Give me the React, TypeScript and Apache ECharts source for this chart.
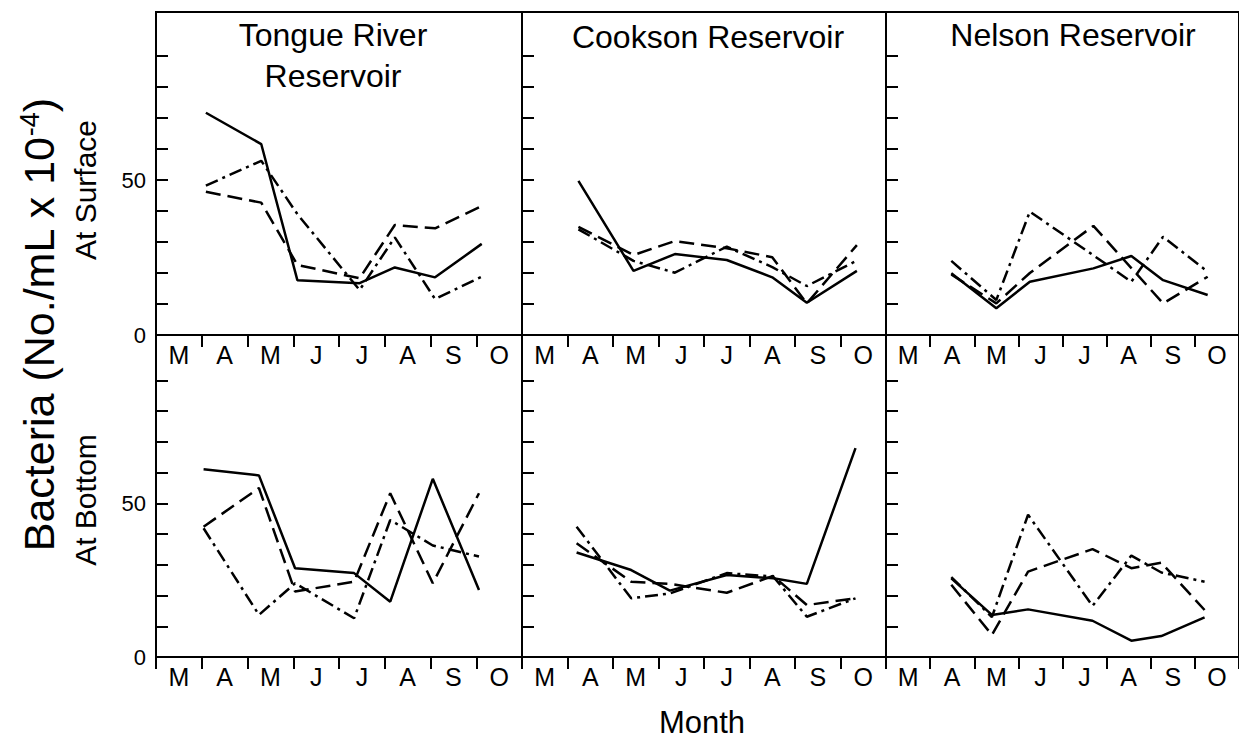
import React, { useEffect, useRef } from "react";
import * as echarts from "echarts";

// ---------- data (x = months since 1 March, y = bacteria No./mL x 10^-4) ----------
const MONTHS = ["M", "A", "M", "J", "J", "A", "S", "O"];
const PANEL_TITLES = ["Tongue River\nReservoir", "Cookson Reservoir", "Nelson Reservoir"];
const ROW_NAMES = ["At Surface", "At Bottom"];

// Tongue River – surface
const trSurfDates = [1.09, 2.3, 3.09, 4.45, 5.22, 6.1, 7.12];
const trSurfSolid = [71.7, 61.6, 17.7, 16.7, 21.8, 18.6, 29.4];
const trSurfDashed = [46.2, 42.7, 22.6, 18.3, 35.5, 34.4, 41.6];
const trSurfDashDot = [48.2, 56.2, 39.0, 14.5, 31.5, 11.6, 18.8];

// Cookson – surface
const ckSurfDates = [1.24, 2.45, 3.36, 4.5, 5.5, 6.26, 7.36];
const ckSurfSolid = [49.7, 20.7, 26.1, 24.2, 18.6, 10.4, 20.7];
const ckSurfDashed = [34.9, 25.8, 30.3, 28.0, 25.1, 10.2, 29.0];
const ckSurfDashDot = [34.1, 23.9, 20.1, 28.5, 21.9, 15.8, 24.0];

// Nelson – surface
const nlSurfDates = [1.48, 2.5, 3.26, 4.7, 5.56, 6.28, 7.29];
const nlSurfSolid = [19.9, 8.6, 17.2, 21.5, 25.5, 17.7, 12.9];
const nlSurfDashed = [19.5, 10.2, 20.0, 35.2, 21.6, 10.2, 18.8];
const nlSurfDashDot = [23.9, 11.3, 39.8, 25.7, 17.2, 31.7, 20.4];

// Tongue River – bottom
const trBotDates = [1.04, 2.25, 3.04, 4.33, 5.12, 6.05, 7.06];
const trBotSolid = [61.1, 59.1, 28.9, 27.3, 18.0, 58.0, 21.8];
const trBotDashed = [42.4, 55.0, 21.3, 24.5, 53.3, 24.0, 53.3];
const trBotDashDot = [41.9, 13.7, 24.0, 12.6, 44.6, 36.3, 32.7];

// Cookson – bottom
const ckBotDates = [1.2, 2.4, 3.25, 4.5, 5.52, 6.26, 7.33];
const ckBotSolid = [34.0, 28.3, 21.6, 26.7, 25.6, 23.8, 68.0];
const ckBotDashed = [37.0, 24.5, 23.8, 20.9, 26.4, 16.9, 19.1];
const ckBotDashDot = [42.4, 19.1, 20.7, 27.3, 26.2, 13.1, 19.1];

// Nelson – bottom
const nlBotDates = [1.48, 2.4, 3.22, 4.68, 5.56, 6.24, 7.22];
const nlBotSolid = [25.6, 13.7, 15.5, 11.8, 5.3, 6.8, 12.9];
const nlBotDashed = [23.5, 7.2, 27.8, 35.1, 28.9, 30.7, 15.3];
const nlBotDashDot = [26.0, 13.0, 46.3, 16.6, 33.0, 27.5, 24.5];

const Y_LABELS = [0, 50];
const Y_TICKS = [0, 10, 20, 30, 40, 50, 60, 70, 80, 90];

// ---------- layout ----------
const FONT = "'Liberation Sans', Arial, Helvetica, sans-serif";
const COL_LEFT = [156, 522, 886];
const COL_WIDTH = [366, 364, 364];
const ROW_TOP = [12, 335];
const ROW_HEIGHT = [323, 322];
const ROW_MAX = [104.2, 104.8];

const panels = [
  { dates: trSurfDates, s: trSurfSolid, d: trSurfDashed, dd: trSurfDashDot },
  { dates: ckSurfDates, s: ckSurfSolid, d: ckSurfDashed, dd: ckSurfDashDot },
  { dates: nlSurfDates, s: nlSurfSolid, d: nlSurfDashed, dd: nlSurfDashDot },
  { dates: trBotDates, s: trBotSolid, d: trBotDashed, dd: trBotDashDot },
  { dates: ckBotDates, s: ckBotSolid, d: ckBotDashed, dd: ckBotDashDot },
  { dates: nlBotDates, s: nlBotSolid, d: nlBotDashed, dd: nlBotDashDot },
];

function buildOption() {
  const grid: any[] = [];
  const xAxis: any[] = [];
  const yAxis: any[] = [];
  const series: any[] = [];
  const black = "#000";

  panels.forEach((p, i) => {
    const row = i < 3 ? 0 : 1;
    const col = i % 3;
    grid.push({
      left: COL_LEFT[col],
      top: ROW_TOP[row],
      width: COL_WIDTH[col],
      height: ROW_HEIGHT[row],
      show: true,
      borderColor: black,
      borderWidth: 2,
      backgroundColor: "transparent",
    });
    xAxis.push({
      type: "value",
      gridIndex: i,
      min: 0,
      max: 8,
      interval: 1,
      splitLine: { show: false },
      axisLine: { show: true, lineStyle: { color: black, width: 2 } },
      axisTick: {
        show: true,
        inside: false,
        length: 12,
        lineStyle: { color: black, width: 2 },
      },
      axisLabel: {
        show: true,
        customValues: MONTHS.map((_, k) => k + 0.5),
        formatter: (v: number) => MONTHS[Math.floor(v)],
        fontSize: 25,
        fontFamily: FONT,
        color: black,
        margin: 7,
      },
    });
    yAxis.push({
      type: "value",
      gridIndex: i,
      position: "left",
      min: 0,
      max: ROW_MAX[row],
      splitLine: { show: false },
      axisLine: { show: true, lineStyle: { color: black, width: 2 } },
      axisTick: {
        show: true,
        inside: true,
        length: 12,
        lineStyle: { color: black, width: 2 },
        customValues: Y_TICKS,
      },
      axisLabel: {
        show: col === 0,
        customValues: Y_LABELS,
        fontSize: 22,
        fontFamily: FONT,
        color: black,
        margin: 10,
      },
    });
    const styles: [number[], any][] = [
      [p.s, "solid"],
      [p.d, [15, 7]],
      [p.dd, [13, 5, 3, 5]],
    ];
    styles.forEach(([vals, type]) => {
      series.push({
        type: "line",
        xAxisIndex: i,
        yAxisIndex: i,
        data: p.dates.map((x, k) => [x, vals[k]]),
        symbol: "none",
        silent: true,
        lineStyle: { color: black, width: 2.5, type },
      });
    });
  });

  const titleX = [333, 708, 1073];
  const titleY = [14, 16, 14];
  const graphic: any[] = PANEL_TITLES.map((t, k) => ({
    type: "text",
    x: titleX[k],
    y: titleY[k],
    style: {
      text: t,
      fontSize: 32,
      fontFamily: FONT,
      lineHeight: 41,
      fill: black,
      align: "center",
      verticalAlign: "top",
    },
  }));
  graphic.push({
    type: "text",
    x: 702,
    y: 722,
    style: { text: "Month", fontSize: 31, fontFamily: FONT, fill: black, align: "center", verticalAlign: "middle" },
  });
  const rowNameY = [190, 500];
  ROW_NAMES.forEach((n, k) => {
    graphic.push({
      type: "text",
      x: 85,
      y: rowNameY[k],
      rotation: Math.PI / 2,
      style: { text: n, fontSize: 30, fontFamily: FONT, fill: black, align: "center", verticalAlign: "middle" },
    });
  });
  graphic.push({
    type: "text",
    x: 39,
    y: 325,
    rotation: Math.PI / 2,
    style: {
      text: "Bacteria (No./mL x 10{sup|-4})",
      fontSize: 43,
      fontFamily: FONT,
      fill: black,
      align: "center",
      verticalAlign: "middle",
      rich: {
        sup: { fontSize: 27, fontFamily: FONT, fill: black, padding: [0, 0, 18, 0] },
      },
    },
  });

  return {
    animation: false,
    backgroundColor: "#fff",
    grid,
    xAxis,
    yAxis,
    series,
    graphic,
  };
}

export default function App() {
  const ref = useRef<HTMLDivElement>(null);
  useEffect(() => {
    if (!ref.current) return;
    const chart = echarts.init(ref.current, undefined, { renderer: "svg" });
    chart.setOption(buildOption() as any);
    return () => chart.dispose();
  }, []);
  return (
    <div
      ref={ref}
      style={{ position: "absolute", left: 0, top: 0, width: 1239, height: 738 }}
    />
  );
}
